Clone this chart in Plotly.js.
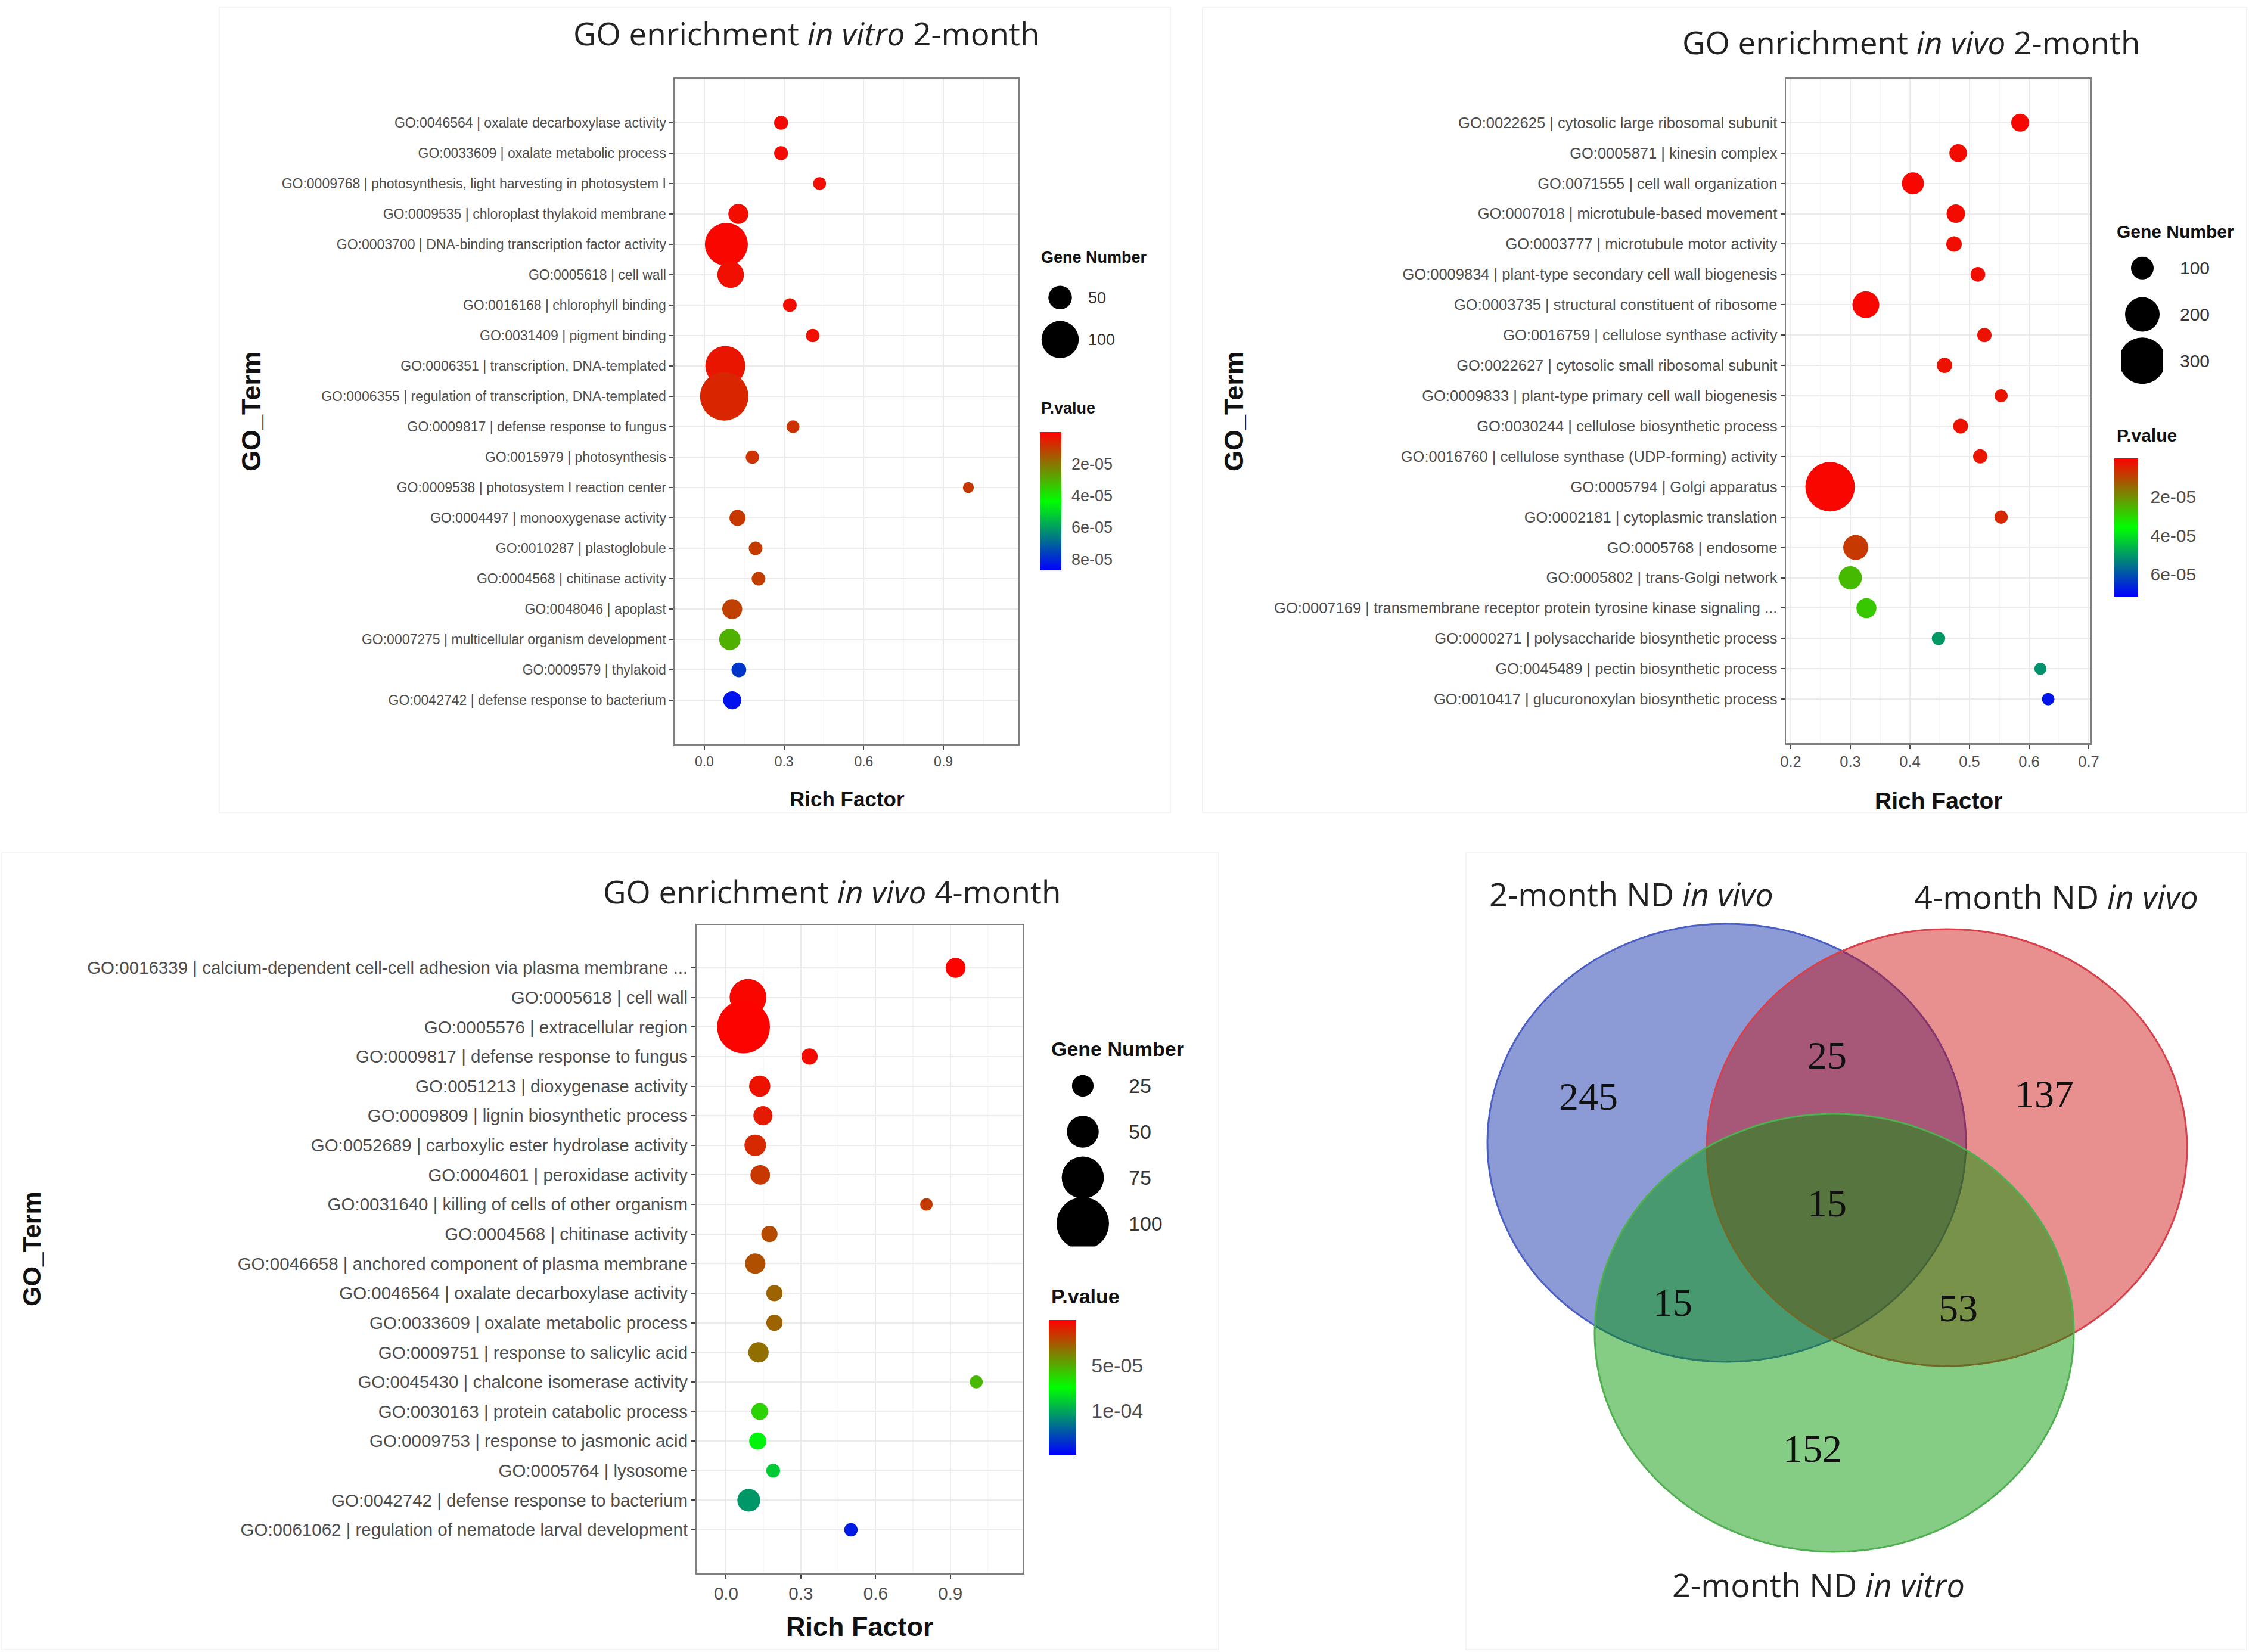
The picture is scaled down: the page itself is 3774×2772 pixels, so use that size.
<!DOCTYPE html>
<html><head><meta charset="utf-8">
<script src="https://cdn.plot.ly/plotly-3.0.1.min.js"></script>
<style>html,body{margin:0;padding:0;background:#fff}</style>
</head><body><div id="chart" style="width:3774px;height:2772px"></div>
<script>
// ---------- DATA ----------
// Panel A: GO enrichment in vitro 2-month
const termsVitro2 = [
"GO:0046564 | oxalate decarboxylase activity",
"GO:0033609 | oxalate metabolic process",
"GO:0009768 | photosynthesis, light harvesting in photosystem I",
"GO:0009535 | chloroplast thylakoid membrane",
"GO:0003700 | DNA-binding transcription factor activity",
"GO:0005618 | cell wall",
"GO:0016168 | chlorophyll binding",
"GO:0031409 | pigment binding",
"GO:0006351 | transcription, DNA-templated",
"GO:0006355 | regulation of transcription, DNA-templated",
"GO:0009817 | defense response to fungus",
"GO:0015979 | photosynthesis",
"GO:0009538 | photosystem I reaction center",
"GO:0004497 | monooxygenase activity",
"GO:0010287 | plastoglobule",
"GO:0004568 | chitinase activity",
"GO:0048046 | apoplast",
"GO:0007275 | multicellular organism development",
"GO:0009579 | thylakoid",
"GO:0042742 | defense response to bacterium"];
const richVitro2 = [0.289,0.289,0.434,0.128,0.083,0.099,0.322,0.408,0.079,0.075,0.334,0.181,0.994,0.125,0.193,0.204,0.105,0.096,0.130,0.105];
const genesVitro2 = [15,15,11,37,121,61,14,13,110,141,11,13,4,23,14,14,37,42,18,30];
const pVitro2 = [1.5e-6,1.5e-6,2e-6,2e-6,1e-6,2.5e-6,2e-6,2.5e-6,3.5e-6,6.5e-6,8.7e-6,8.5e-6,9.6e-6,9.5e-6,1.0e-5,1.05e-5,1.1e-5,3.0e-5,7.8e-5,8.4e-5];
const sizeLegendVitro2 = [50,100];
const pTicksVitro2 = [2e-5,4e-5,6e-5,8e-5];
const pTickTextVitro2 = ["2e-05","4e-05","6e-05","8e-05"];

// Panel B: GO enrichment in vivo 2-month
const termsVivo2 = [
"GO:0022625 | cytosolic large ribosomal subunit",
"GO:0005871 | kinesin complex",
"GO:0071555 | cell wall organization",
"GO:0007018 | microtubule-based movement",
"GO:0003777 | microtubule motor activity",
"GO:0009834 | plant-type secondary cell wall biogenesis",
"GO:0003735 | structural constituent of ribosome",
"GO:0016759 | cellulose synthase activity",
"GO:0022627 | cytosolic small ribosomal subunit",
"GO:0009833 | plant-type primary cell wall biogenesis",
"GO:0030244 | cellulose biosynthetic process",
"GO:0016760 | cellulose synthase (UDP-forming) activity",
"GO:0005794 | Golgi apparatus",
"GO:0002181 | cytoplasmic translation",
"GO:0005768 | endosome",
"GO:0005802 | trans-Golgi network",
"GO:0007169 | transmembrane receptor protein tyrosine kinase signaling ...",
"GO:0000271 | polysaccharide biosynthetic process",
"GO:0045489 | pectin biosynthetic process",
"GO:0010417 | glucuronoxylan biosynthetic process"];
const richVivo2 = [0.585,0.481,0.405,0.477,0.474,0.514,0.326,0.525,0.458,0.553,0.485,0.518,0.266,0.553,0.309,0.300,0.327,0.448,0.619,0.632];
const genesVivo2 = [60,58,95,65,40,33,135,30,38,20,35,30,325,22,120,105,78,22,12,15];
const pVivo2 = [1e-6,1.5e-6,1e-6,1.5e-6,2e-6,2e-6,1e-6,2.5e-6,2.5e-6,3e-6,2.5e-6,3e-6,1e-6,5.4e-6,8e-6,2.6e-5,2.8e-5,5e-5,5.1e-5,6.85e-5];
const sizeLegendVivo2 = [100,200,300];
const pTicksVivo2 = [2e-5,4e-5,6e-5];
const pTickTextVivo2 = ["2e-05","4e-05","6e-05"];

// Panel C: GO enrichment in vivo 4-month
const termsVivo4 = [
"GO:0016339 | calcium-dependent cell-cell adhesion via plasma membrane ...",
"GO:0005618 | cell wall",
"GO:0005576 | extracellular region",
"GO:0009817 | defense response to fungus",
"GO:0051213 | dioxygenase activity",
"GO:0009809 | lignin biosynthetic process",
"GO:0052689 | carboxylic ester hydrolase activity",
"GO:0004601 | peroxidase activity",
"GO:0031640 | killing of cells of other organism",
"GO:0004568 | chitinase activity",
"GO:0046658 | anchored component of plasma membrane",
"GO:0046564 | oxalate decarboxylase activity",
"GO:0033609 | oxalate metabolic process",
"GO:0009751 | response to salicylic acid",
"GO:0045430 | chalcone isomerase activity",
"GO:0030163 | protein catabolic process",
"GO:0009753 | response to jasmonic acid",
"GO:0005764 | lysosome",
"GO:0042742 | defense response to bacterium",
"GO:0061062 | regulation of nematode larval development"];
const richVivo4 = [0.921,0.088,0.070,0.335,0.135,0.148,0.117,0.137,0.804,0.174,0.117,0.194,0.194,0.130,1.004,0.135,0.127,0.189,0.091,0.501];
const genesVivo4 = [21,62,101,12,24,19,25,20,3,12,22,12,12,22,4,13,14,6,28,5];
const pVivo4 = [1e-6,2e-6,1e-6,3e-6,5e-6,8e-6,1.2e-5,1.6e-5,1.7e-5,2.2e-5,2.3e-5,2.9e-5,2.9e-5,3.2e-5,5.4e-5,6.2e-5,7.8e-5,9e-5,1.05e-4,1.41e-4];
const sizeLegendVivo4 = [25,50,75,100];
const pTicksVivo4 = [5e-5,1e-4];
const pTickTextVivo4 = ["5e-05","1e-04"];

// Panel D: Venn diagram
const vennSets = ["2-month ND <i>in vivo</i>","4-month ND <i>in vivo</i>","2-month ND <i>in vitro</i>"];
const vennCounts = [245,25,137,15,15,53,152]; // A only, A&B, B only, A&B&C, A&C, B&C, C only

// ---------- LAYOUT HELPERS ----------
const W=3774,H=2772;
const px=x=>x/W, py=y=>1-y/H;
const FONT='"Liberation Sans", Arial, sans-serif';
const TFONT='"Open Sans", "Liberation Sans", sans-serif';
const CS=[[0,'rgb(0,0,255)'],[0.5,'rgb(0,255,0)'],[1,'rgb(255,0,0)']];

const panels=[
 {terms:termsVitro2,rich:richVitro2,genes:genesVitro2,p:pVitro2,leg:sizeLegendVitro2,tv:pTicksVitro2,tt:pTickTextVitro2,
  box:[1132,1709,132,1249],xr:[-0.112,1.1825],dt:0.3,mdt:0.15,tf:23,sa:16.5,sb:0.46,pmax:8.7e-5,
  cb:{l:1745,t:36,top:725,bot:957,f:27,tl:12},lg:{x:[1745,1813],y:[464,605],so:12,f:27},
  title:{t:"GO enrichment <i>in vitro</i> 2-month",x:1353,y:55},
  rf:{x:1421,y:1340,f:35},go:{x:421,y:690,f:45},
  gn:{x:1745,y:432,f:27},pv:{x:1745,y:685,f:27}},
 {terms:termsVivo2,rich:richVivo2,genes:genesVivo2,p:pVivo2,leg:sizeLegendVivo2,tv:pTicksVivo2,tt:pTickTextVivo2,
  box:[2997,3508,132,1247],xr:[0.192,0.703],dt:0.1,mdt:0.05,tf:25.5,sa:18,sb:0.2,pmax:7.14e-5,
  cb:{l:3548,t:40,top:769,bot:1001,f:30,tl:15},lg:{x:[3560,3630],y:[411,644],so:27,f:30},
  title:{t:"GO enrichment <i>in vivo</i> 2-month",x:3207,y:70},
  rf:{x:3253,y:1343,f:39},go:{x:2070,y:690,f:45},
  gn:{x:3550,y:388,f:30},pv:{x:3550,y:730,f:30}},
 {terms:termsVivo4,rich:richVivo4,genes:genesVivo4,p:pVivo4,leg:sizeLegendVivo4,tv:pTicksVivo4,tt:pTickTextVivo4,
  box:[1169.5,1716,1552,2639],xr:[-0.117,1.190],dt:0.3,mdt:0.15,tf:29.5,sa:19,sb:0.69,pmax:1.49e-4,
  cb:{l:1760,t:46,top:2215,bot:2441,f:34,tl:19},lg:{x:[1770,1864],y:[1783.5,2091.5],so:29,f:34},
  title:{t:"GO enrichment <i>in vivo</i> 4-month",x:1396,y:1495},
  rf:{x:1443,y:2729,f:45},go:{x:53,y:2096,f:43},
  gn:{x:1762,y:1760,f:34},pv:{x:1762,y:2175,f:34}}
];

const traces=[]; const layout={width:W,height:H,margin:{l:0,r:0,t:0,b:0},paper_bgcolor:'#fff',plot_bgcolor:'#fff',
  showlegend:false,annotations:[],shapes:[]};

panels.forEach((P,i)=>{
  const k=i+1, lk=i+4;
  const xa='x'+(k===1?'':k), ya='y'+(k===1?'':k);
  const sizeFn=g=>P.sa+P.sb*g;
  traces.push({type:'scatter',mode:'markers',x:P.rich,y:P.terms,xaxis:xa,yaxis:ya,hoverinfo:'skip',
    marker:{size:P.genes.map(sizeFn),color:P.p.map(v=>-v),colorscale:CS,cmin:-P.pmax,cmax:0,line:{width:0},opacity:1,
      colorbar:{x:px(P.cb.l),xanchor:'left',xpad:0,ypad:0,y:py((P.cb.top+P.cb.bot)/2),yanchor:'middle',
        len:P.cb.bot-P.cb.top,lenmode:'pixels',thickness:P.cb.t,thicknessmode:'pixels',outlinewidth:0,
        ticks:'outside',ticklen:P.cb.tl,tickcolor:'rgba(0,0,0,0)',
        tickvals:P.tv.map(v=>-v),ticktext:P.tt,tickfont:{family:FONT,size:P.cb.f,color:'#4D4D4D'}}}});
  // size legend
  traces.push({type:'scatter',mode:'markers',x:P.leg.map(()=>0.5),y:P.leg.map(String),xaxis:'x'+lk,yaxis:'y'+lk,hoverinfo:'skip',
    marker:{size:P.leg.map(sizeFn),color:'rgb(0,0,0)',opacity:1,line:{width:0}}});
  const axX={domain:[px(P.box[0]),px(P.box[1])],anchor:ya,range:P.xr,autorange:false,dtick:P.dt,tick0:0,
    showgrid:true,gridcolor:'#EBEBEB',gridwidth:2,zeroline:false,showline:true,mirror:true,linecolor:'#808080',linewidth:2.5,
    ticks:'outside',ticklen:7,tickwidth:2,tickcolor:'#444',tickformat:'.1f',
    tickfont:{family:FONT,size:P.tf,color:'#4D4D4D'},automargin:false,
    minor:{dtick:P.mdt,tick0:0,showgrid:true,gridcolor:'#F6F6F6',gridwidth:1.5}};
  const axY={domain:[py(P.box[3]),py(P.box[2])],anchor:xa,type:'category',categoryorder:'array',categoryarray:P.terms,
    range:[P.terms.length-1+1.45,-1.45],autorange:false,showgrid:true,gridcolor:'#EBEBEB',gridwidth:2,zeroline:false,
    showline:true,mirror:true,linecolor:'#808080',linewidth:2.5,ticks:'outside',ticklen:7,tickwidth:2,tickcolor:'#444',
    tickfont:{family:FONT,size:P.tf,color:'#4D4D4D'},automargin:false};
  layout['xaxis'+(k===1?'':k)]=axX; layout['yaxis'+(k===1?'':k)]=axY;
  layout['xaxis'+lk]={domain:[px(P.lg.x[0]),px(P.lg.x[1])],anchor:'y'+lk,range:[0,1],visible:false,fixedrange:true};
  layout['yaxis'+lk]={domain:[py(P.lg.y[1]),py(P.lg.y[0])],anchor:'x'+lk,side:'right',type:'category',
    categoryorder:'array',categoryarray:P.leg.map(String),range:[P.leg.length-0.5,-0.5],autorange:false,
    showgrid:false,zeroline:false,showline:false,ticks:'',ticklabelstandoff:P.lg.so,
    tickfont:{family:FONT,size:P.lg.f,color:'#333'},automargin:false};
  const A=layout.annotations;
  A.push({xref:'paper',yref:'paper',x:px(P.title.x),y:py(P.title.y),xanchor:'center',yanchor:'middle',showarrow:false,
    text:P.title.t,font:{family:TFONT,size:53,color:'#222'}});
  A.push({xref:'paper',yref:'paper',x:px(P.rf.x),y:py(P.rf.y),xanchor:'center',yanchor:'middle',showarrow:false,
    text:'<b>Rich Factor</b>',font:{family:FONT,size:P.rf.f,color:'#111'}});
  A.push({xref:'paper',yref:'paper',x:px(P.go.x),y:py(P.go.y),xanchor:'center',yanchor:'middle',showarrow:false,textangle:-90,
    text:'<b>GO_Term</b>',font:{family:FONT,size:P.go.f,color:'#111'}});
  A.push({xref:'paper',yref:'paper',x:px(P.gn.x),y:py(P.gn.y),xanchor:'left',yanchor:'middle',showarrow:false,
    text:'<b>Gene Number</b>',font:{family:FONT,size:P.gn.f,color:'#111'}});
  A.push({xref:'paper',yref:'paper',x:px(P.pv.x),y:py(P.pv.y),xanchor:'left',yanchor:'middle',showarrow:false,
    text:'<b>P.value</b>',font:{family:FONT,size:P.pv.f,color:'#111'}});
});

// faint panel frames
[[368,12,1964,1364],[2018,12,3770,1364],[3,1431,2045,2768],[2460,1431,3770,2768]].forEach(r=>{
  layout.shapes.push({type:'rect',xref:'paper',yref:'paper',x0:px(r[0]),x1:px(r[2]),y0:py(r[3]),y1:py(r[1]),
    line:{color:'#F4F4F4',width:2},fillcolor:'rgba(0,0,0,0)',layer:'below'});
});

// Venn circles (blue, red, green)
const vennCircles=[
 {b:[2496,1550,3299,2285],fill:'rgba(25,55,173,0.5)',line:'rgb(75,95,195)'},
 {b:[2864,1559,3670,2292],fill:'rgba(203,0,0,0.44)',line:'rgb(215,65,75)'},
 {b:[2676,1869,3480,2604],fill:'rgba(0,150,0,0.48)',line:'rgb(80,175,80)'}];
vennCircles.forEach(c=>layout.shapes.push({type:'circle',xref:'paper',yref:'paper',
  x0:px(c.b[0]),x1:px(c.b[2]),y0:py(c.b[3]),y1:py(c.b[1]),fillcolor:c.fill,line:{color:c.line,width:3},layer:'above'}));
const vennLabelPos=[[2737,1500],[3450,1504],[3051,2659]];
vennSets.forEach((s,i)=>layout.annotations.push({xref:'paper',yref:'paper',x:px(vennLabelPos[i][0]),y:py(vennLabelPos[i][1]),
  xanchor:'center',yanchor:'middle',showarrow:false,text:s,font:{family:TFONT,size:54,color:'#222'}}));
const vennCountPos=[[2665,1839],[3066,1771],[3430,1835],[3066,2018],[2807,2185],[3286,2194],[3041,2430]];
vennCounts.forEach((v,i)=>layout.annotations.push({xref:'paper',yref:'paper',x:px(vennCountPos[i][0]),y:py(vennCountPos[i][1]),
  xanchor:'center',yanchor:'middle',showarrow:false,text:String(v),font:{family:'"Liberation Serif", "Times New Roman", serif',size:66,color:'#111'}}));

Plotly.newPlot('chart',traces,layout,{staticPlot:true,displayModeBar:false});
</script></body></html>
